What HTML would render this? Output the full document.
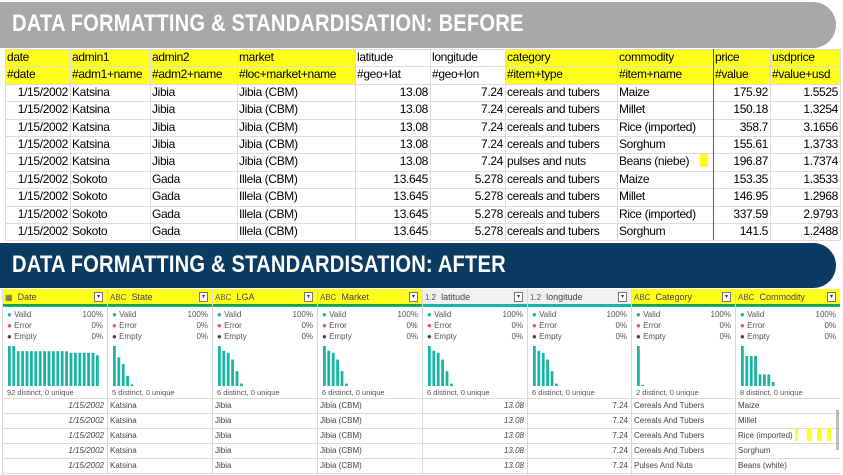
<!DOCTYPE html>
<html><head><meta charset="utf-8">
<style>
*{margin:0;padding:0;box-sizing:border-box}
body{width:843px;height:475px;overflow:hidden;background:#fff;font-family:"Liberation Sans",sans-serif;position:relative}
.abs{position:absolute}
.banner{position:absolute;left:0;border-radius:0 40px 40px 0}
.btitle{position:absolute;left:12px;color:#fff;font-weight:bold;font-size:24px;transform:scaleX(0.84);transform-origin:left center;white-space:nowrap;letter-spacing:0.2px}
.tc{position:absolute;font-size:12px;letter-spacing:-0.35px;color:#000;white-space:nowrap;line-height:17px;padding:0 2px;overflow:hidden}
.hl{position:absolute;background:#ffff1a}
.bh{position:absolute;top:290px;height:14px;font-size:9px;color:#444;line-height:14px;white-space:nowrap}
.dd{position:absolute;top:2px;width:9px;height:10px;border:1px solid #777;background:#fff;font-size:6px;line-height:8px;text-align:center;color:#333}
.st{position:absolute;font-size:8px;color:#555;line-height:10px;white-space:nowrap}
.dr{position:absolute;font-size:8px;color:#444;line-height:15px;white-space:nowrap}
</style></head><body>
<div class="banner" style="top:2px;width:836px;height:46px;background:#a8a8a8"><div class="btitle" style="top:8px">DATA FORMATTING &amp; STANDARDISATION: BEFORE</div></div>
<div id="topTable"></div>
<div class="banner" style="top:243px;width:836px;height:45px;background:#0b3a62"><div class="btitle" style="top:8px">DATA FORMATTING &amp; STANDARDISATION: AFTER</div></div>
<div id="botTable"></div>
<svg id="hist" class="abs" style="left:0;top:0" width="843" height="475"></svg>
<script>
const colX=[5,70,150,237,355,430,505,617,713,770,840];
const heads=["date","admin1","admin2","market","latitude","longitude","category","commodity","price","usdprice"];
const tags=["#date","#adm1+name","#adm2+name","#loc+market+name","#geo+lat","#geo+lon","#item+type","#item+name","#value","#value+usd"];
const rows=[
["1/15/2002","Katsina","Jibia","Jibia (CBM)","13.08","7.24","cereals and tubers","Maize","175.92","1.5525"],
["1/15/2002","Katsina","Jibia","Jibia (CBM)","13.08","7.24","cereals and tubers","Millet","150.18","1.3254"],
["1/15/2002","Katsina","Jibia","Jibia (CBM)","13.08","7.24","cereals and tubers","Rice (imported)","358.7","3.1656"],
["1/15/2002","Katsina","Jibia","Jibia (CBM)","13.08","7.24","cereals and tubers","Sorghum","155.61","1.3733"],
["1/15/2002","Katsina","Jibia","Jibia (CBM)","13.08","7.24","pulses and nuts","Beans (niebe)","196.87","1.7374"],
["1/15/2002","Sokoto","Gada","Illela (CBM)","13.645","5.278","cereals and tubers","Maize","153.35","1.3533"],
["1/15/2002","Sokoto","Gada","Illela (CBM)","13.645","5.278","cereals and tubers","Millet","146.95","1.2968"],
["1/15/2002","Sokoto","Gada","Illela (CBM)","13.645","5.278","cereals and tubers","Rice (imported)","337.59","2.9793"],
["1/15/2002","Sokoto","Gada","Illela (CBM)","13.645","5.278","cereals and tubers","Sorghum","141.5","1.2488"]];
const rightCols=[0,4,5,8,9];
const topEl=document.getElementById('topTable');
const y0=49,rh=17.4;
let h='';
[[5,355],[505,840]].forEach(s=>{h+=`<div class="hl" style="left:${s[0]}px;top:${y0}px;width:${s[1]-s[0]}px;height:${rh*2}px"></div>`;});
h+=`<div class="hl" style="left:700px;top:153px;width:8px;height:14px"></div>`;
for(let r=0;r<=11;r++)h+=`<div class="abs" style="left:5px;top:${y0+r*rh}px;width:835px;height:1px;background:#dcdcdc"></div>`;
colX.forEach((x,i)=>{h+=`<div class="abs" style="left:${x}px;top:${y0}px;width:1px;height:${rh*11}px;background:${i==8?'#2e7d32':'#dcdcdc'}"></div>`;});
const all=[heads,tags].concat(rows);
all.forEach((row,r)=>row.forEach((t,c)=>{
 const al=(r>=2&&rightCols.includes(c))?'right':'left';
 h+=`<div class="tc" style="left:${colX[c]}px;top:${y0+r*rh}px;width:${colX[c+1]-colX[c]}px;text-align:${al}">${t}</div>`;}));
topEl.innerHTML=h;

const bx=[2,107,212,317,422,527,631,735,840];
const bnames=["Date","State","LGA","Market","latitude","longitude","Category","Commodity"];
const bicons=["▦","ABC","ABC","ABC","1.2","1.2","ABC","ABC"];
const yellow=[1,1,1,1,0,0,1,1];
const distinct=["92 distinct, 0 unique","5 distinct, 0 unique","6 distinct, 0 unique","6 distinct, 0 unique","6 distinct, 0 unique","6 distinct, 0 unique","2 distinct, 0 unique","8 distinct, 0 unique"];
const brows=[
["1/15/2002","Katsina","Jibia","Jibia (CBM)","13.08","7.24","Cereals And Tubers","Maize"],
["1/15/2002","Katsina","Jibia","Jibia (CBM)","13.08","7.24","Cereals And Tubers","Millet"],
["1/15/2002","Katsina","Jibia","Jibia (CBM)","13.08","7.24","Cereals And Tubers","Rice (imported)"],
["1/15/2002","Katsina","Jibia","Jibia (CBM)","13.08","7.24","Cereals And Tubers","Sorghum"],
["1/15/2002","Katsina","Jibia","Jibia (CBM)","13.08","7.24","Pulses And Nuts","Beans (white)"]];
let b='';
b+=`<div class="abs" style="left:2px;top:289px;width:838px;height:15px;background:#f0f0f0"></div>`;
b+=`<div class="abs" style="left:2px;top:304px;width:838px;height:3px;background:#1ab5a5"></div>`;
bx.slice(0,8).forEach((x,i)=>{
 const w=bx[i+1]-x;
 if(yellow[i])b+=`<div class="hl" style="left:${x}px;top:289px;width:${w}px;height:15px"></div><div class="abs" style="left:${x}px;top:304px;width:${w}px;height:2px;background:#1aa33a"></div>`;
 b+=`<div class="bh" style="left:${x+3}px;width:${w}px"><span style="font-size:8px;color:#555">${bicons[i]}</span>&nbsp; ${bnames[i]}<div class="dd" style="left:${w-16}px">▾</div></div>`;
 b+=`<div class="abs" style="left:${x}px;top:289px;width:1px;height:186px;background:#d8d8d8"></div>`;
 [["Valid","100%","#1ab5a5"],["Error","0%","#f05050"],["Empty","0%","#444"]].forEach((s,k)=>{
  b+=`<div class="st" style="left:${x+5}px;top:${310+k*11}px"><span style="color:${s[2]}">●</span> ${s[0]}</div><div class="st" style="left:${x+w-30}px;width:26px;text-align:right;top:${310+k*11}px">${s[1]}</div>`;});
 b+=`<div class="st" style="left:${x+5}px;top:388px;font-size:7.5px">${distinct[i]}</div>`;
 brows.forEach((r,ri)=>{const al=(i==0||i==4||i==5)?'right':'left';const it=(i==0||i==4)?'italic':'normal';
  b+=`<div class="dr" style="left:${x+3}px;width:${w-6}px;top:${398+ri*15}px;text-align:${al};font-style:${it}">${r[i]}</div>`;});
});
for(let r=0;r<=5;r++)b+=`<div class="abs" style="left:2px;top:${398+r*15}px;width:838px;height:1px;background:#dcdcdc"></div>`;
[[795,3],[807,4],[817,4],[827,4]].forEach(s=>{b+=`<div class="hl" style="left:${s[0]}px;top:428px;width:${s[1]}px;height:13px"></div>`;});
b+=`<div class="abs" style="left:836px;top:410px;width:3px;height:40px;background:#bbb"></div>`;
document.getElementById('botTable').innerHTML=b;

const histDate=[1,1,.87,.87,.87,.87,.87,.87,.87,.87,.87,.87,.87,.87,.83,.83,.83,.83,.83,.83,.77];
const histState=[1,.72,.55,.25,.04];
const histLGA=[1,.88,.83,.66,.37,.06];
const histMarket=[1,.88,.83,.66,.37,.06];
const histLat=[1,.88,.83,.66,.37,.06];
const histLon=[1,.88,.83,.66,.37,.06];
const histCat=[1,.03];
const histCom=[1,.75,.75,.75,.29,.29,.29,.1];
const hists=[histDate,histState,histLGA,histMarket,histLat,histLon,histCat,histCom];
const svg=document.getElementById('hist');
const yBase=386,hMax=40;
const yScale=v=>v*hMax;
hists.forEach((arr,i)=>{
 arr.forEach((v,j)=>{
  const r=document.createElementNS('http://www.w3.org/2000/svg','rect');
  
  
  r.setAttribute('x',bx[i]+6+j*4.4);
  r.setAttribute('width',2.8);
  r.setAttribute('y',yBase-yScale(v));
  r.setAttribute('height',yScale(v));
  r.setAttribute('fill','#1ab5a5');
  svg.appendChild(r);
 });
});
</script>
</body></html>
